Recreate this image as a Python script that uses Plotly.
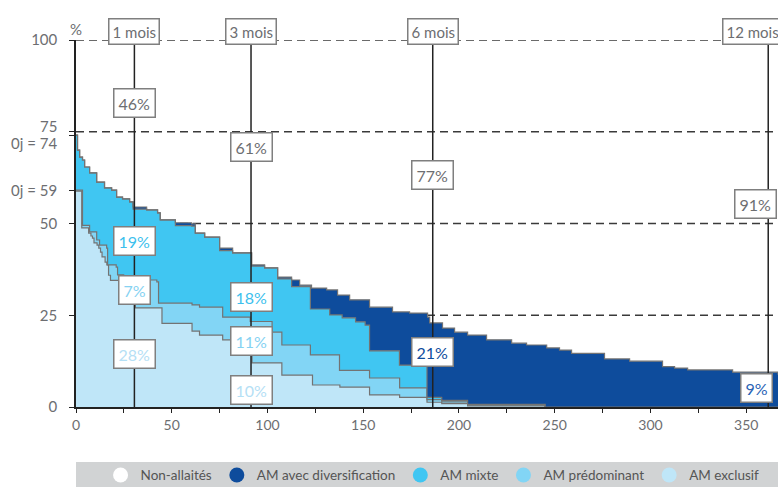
import plotly.graph_objects as go

# ---- data (days, % of infants) ----
total_days = [0,0.8,1.9,3.4,4.5,7.1,10.8,14.9,18.6,21.2,24.3,28.0,29.8,36.9,42.6,44.0,51.9,60.4,62.3,67.2,
              75.0,81.8,91.7,98.5,105.3,112.6,116.8,123.0,130.9,136.6,142.9,153.3,165.3,174.2,183.6,184.7,191.4,197.7,204.5,214.4,
              227.5,235.3,245.8,252.5,258.8,276.0,289.1,306.3,312.6,319.4,342.9,366.6]
total_vals = [74.1,70.0,68.1,67.3,65.4,63.8,61.3,59.7,59.1,57.2,56.7,55.9,54.5,53.7,52.9,51.0,50.2,49.9,47.4,46.3,
              43.3,42.0,38.7,37.9,35.4,34.6,33.2,32.4,31.9,30.5,29.2,27.2,25.9,25.6,24.5,22.9,21.5,20.4,19.6,18.3,
              17.4,16.9,16.1,15.5,14.6,13.1,12.5,11.0,10.6,10.1,9.5,8.8]

mixte_days = [0,0.8,1.9,3.4,4.5,7.1,10.8,14.9,18.6,21.2,24.3,28.0,29.8,36.9,42.6,44.0,51.9,60.4,62.3,67.2,
              75.0,81.8,91.7,98.5,105.3,112.6,122.4,132.5,139.0,146.0,151.0,153.3,168.9,183.3,191.0,204.5,245.0,366.6]
mixte_vals = [74.1,70.0,68.1,67.3,65.4,63.8,61.3,59.7,59.1,57.2,56.7,55.9,53.9,53.7,52.9,51.0,49.4,49.3,47.4,46.3,
              42.6,42.0,38.4,37.9,34.9,32.8,26.7,25.1,24.3,23.2,22.3,15.3,11.4,2.6,1.8,0.7,0.0,0.0]

predo_days = [0,3.4,7.1,10.8,12.3,16.0,16.5,21.0,21.7,24.9,26.0,42.2,43.1,60.6,64.5,76.6,91.0,102.4,107.5,
              122.4,137.6,153.3,169.0,183.3,191.0,204.5,245.0,366.6]
predo_vals = [59.1,49.5,47.7,45.5,44.1,43.3,38.7,38.1,36.0,35.4,34.6,34.1,28.3,27.8,27.2,24.5,23.3,20.4,16.9,
              14.2,10.0,7.9,5.2,2.0,1.4,0.5,0.0,0.0]

excl_days = [0,3.0,6.6,7.8,8.6,9.4,11.0,11.9,12.8,13.6,15.2,16.1,17.0,18.0,30.2,31.0,44.9,60.6,64.5,76.6,
             91.9,107.5,123.5,137.8,153.3,169.0,183.3,191.0,204.5,245.0,366.6]
excl_vals = [58.8,48.8,47.4,46.6,46.0,44.7,44.1,43.3,42.2,40.9,39.5,38.7,35.9,34.5,28.1,27.0,22.8,20.7,19.6,18.3,
             12.0,8.7,6.0,5.4,3.3,2.6,1.3,0.9,0.3,0.0,0.0]

legend_names = ["Non-allaités", "AM avec diversification", "AM mixte", "AM prédominant", "AM exclusif"]
legend_colors = ["#ffffff", "#0e4c9c", "#40c6f2", "#82d5f5", "#bfe6f8"]

month_days = [30.5, 91.4, 186.3, 361.5]
month_labels = ["1 mois", "3 mois", "6 mois", "12 mois"]

# (text, day, y%, colour)
pct_labels = [
    ("46%", 30.5, 82.8, "#6d6e71"), ("61%", 91.4, 70.8, "#6d6e71"),
    ("77%", 186.3, 63.2, "#6d6e71"), ("91%", 355.0, 55.3, "#6d6e71"),
    ("19%", 30.5, 45.2, "#3dbfed"), ("7%", 30.5, 31.9, "#86d2f2"), ("28%", 30.5, 14.4, "#b5e0f5"),
    ("18%", 91.4, 30.0, "#3dbfed"), ("11%", 91.4, 18.0, "#86d2f2"), ("10%", 91.4, 4.6, "#b5e0f5"),
    ("21%", 186.3, 15.0, "#0e4c9c"), ("9%", 355.5, 5.2, "#2a63b5"),
]

xticks = list(range(0, 376, 25))
xticktext = [str(v) if v % 50 == 0 else "" for v in xticks]
yticks = [0, 25, 50, 59, 74, 75, 100]
yticktext = ["0", "25", "50", "", "", "", "100"]

FONT = "Lato"
GREY = "#6d6e71"
LINE = "#737373"

fig = go.Figure()
fig.add_trace(go.Scatter(x=excl_days, y=excl_vals, mode="lines", line=dict(shape="hv", color=LINE, width=1.2),
                         fill="tozeroy", fillcolor=legend_colors[4], showlegend=False, hoverinfo="skip"))
fig.add_trace(go.Scatter(x=predo_days, y=predo_vals, mode="lines", line=dict(shape="hv", color=LINE, width=1.2),
                         fill="tonexty", fillcolor=legend_colors[3], showlegend=False, hoverinfo="skip"))
fig.add_trace(go.Scatter(x=mixte_days, y=mixte_vals, mode="lines", line=dict(shape="hv", color=LINE, width=1.2),
                         fill="tonexty", fillcolor=legend_colors[2], showlegend=False, hoverinfo="skip"))
fig.add_trace(go.Scatter(x=total_days, y=total_vals, mode="lines", line=dict(shape="hv", color=LINE, width=1.2),
                         fill="tonexty", fillcolor=legend_colors[1], showlegend=False, hoverinfo="skip"))

for name, col in zip(legend_names, legend_colors):
    fig.add_trace(go.Scatter(x=[None], y=[None], mode="markers", name=name,
                             marker=dict(symbol="circle", size=15, color=col, line=dict(width=0))))

shapes = []
for yv in [25, 50, 75, 100]:
    shapes.append(dict(type="line", xref="x", yref="y", x0=0, x1=366.6, y0=yv, y1=yv,
                       line=dict(color="#3a3a3a", width=1.5, dash="8px,5px"), layer="below"))
for d in month_days:
    shapes.append(dict(type="line", xref="x", yref="y", x0=d, x1=d, y0=0, y1=100,
                       line=dict(color="#222222", width=1.5), layer="above"))
# legend band
shapes.append(dict(type="rect", xref="paper", yref="paper", x0=0, x1=1.01, y0=-0.222, y1=-0.150,
                   fillcolor="#d1d3d4", line=dict(width=0), layer="below"))

annotations = []
for d, lab in zip(month_days, month_labels):
    xd = d if d < 300 else 353.5
    annotations.append(dict(x=xd, y=1.06, xref="x", yref="paper", text=lab, showarrow=False,
                            font=dict(family=FONT, size=15, color=GREY), bgcolor="white",
                            bordercolor="#7f7f7f", borderwidth=1.5, borderpad=3))
annotations.append(dict(x=0, y=1.06, xref="paper", yref="paper", text="%", showarrow=False,
                        xanchor="center", font=dict(family=FONT, size=15, color=GREY)))
for txt, d, yv, col in pct_labels:
    annotations.append(dict(x=d, y=yv, xref="x", yref="y", text=txt, showarrow=False,
                            font=dict(family=FONT, size=16, color=col), bgcolor="white",
                            bordercolor="#7f7f7f", borderwidth=1.5, borderpad=4))
for txt, yv, shift in [("75", 75, 6), ("0j = 74", 74, -8), ("0j = 59", 59, 0)]:
    annotations.append(dict(x=0, y=yv, xref="paper", yref="y", text=txt, showarrow=False,
                            xanchor="right", xshift=-17, yshift=shift,
                            font=dict(family=FONT, size=15, color=GREY)))

fig.update_layout(
    width=778, height=487,
    margin=dict(l=76, r=0, t=40, b=80, autoexpand=False),
    plot_bgcolor="white", paper_bgcolor="white",
    font=dict(family=FONT, color=GREY),
    xaxis=dict(range=[0, 366.6], tickvals=xticks, ticktext=xticktext, ticks="outside", ticklen=4,
               tickcolor="#222", showline=True, linecolor="#222", linewidth=1.5, showgrid=False,
               zeroline=False, tickfont=dict(family=FONT, size=14, color=GREY), fixedrange=True,
               automargin=False),
    yaxis=dict(range=[0, 100], tickvals=yticks, ticktext=yticktext, ticks="outside", ticklen=5,
               tickcolor="#222", showline=True, linecolor="#222", linewidth=1.5, showgrid=False,
               zeroline=False, tickfont=dict(family=FONT, size=15, color=GREY), fixedrange=True,
               ticklabelstandoff=9, automargin=False),
    shapes=shapes, annotations=annotations,
    legend=dict(orientation="h", x=0.035, y=-0.186, xanchor="left", yanchor="middle",
                bgcolor="rgba(0,0,0,0)", font=dict(family=FONT, size=13.5, color="#555555"),
                itemwidth=30, traceorder="normal"),
    showlegend=True,
)

fig.write_html("out.html", config={"displayModeBar": False},
               post_script="document.body.style.margin='0';document.body.style.overflow='hidden';")
